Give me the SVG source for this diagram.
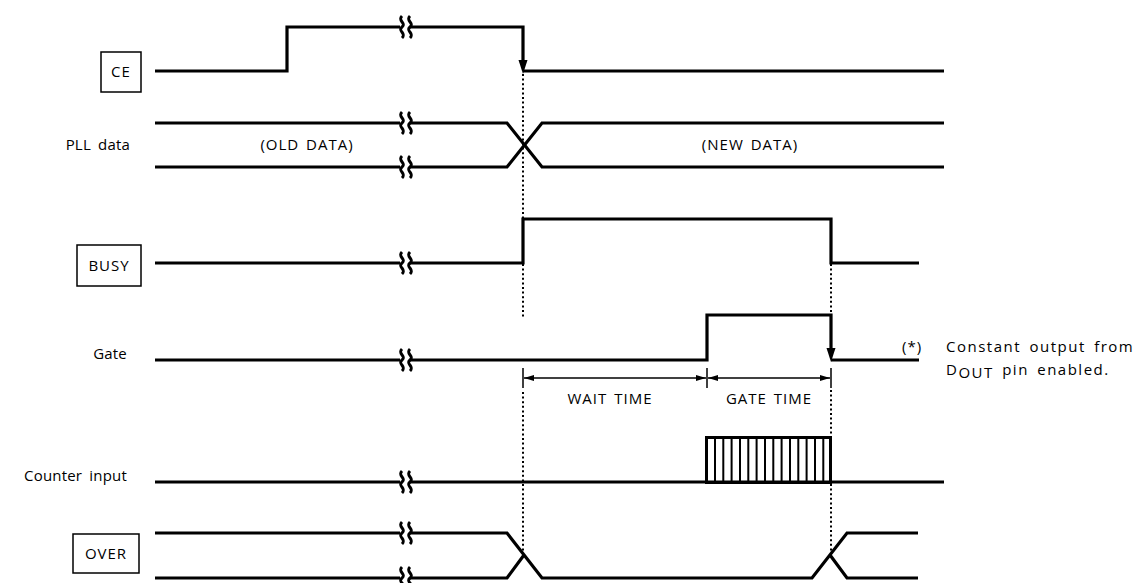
<svg xmlns="http://www.w3.org/2000/svg" width="1139" height="583" viewBox="0 0 1139 583">
<style>
.sig{fill:none;stroke:#000;stroke-width:3.2;stroke-linejoin:miter;stroke-linecap:butt}
.dot{fill:none;stroke:#000;stroke-width:2;stroke-dasharray:2 2.6}
.dim{fill:none;stroke:#000;stroke-width:1.5}
.box{fill:#fff;stroke:#000;stroke-width:1.5}
.t{font-family:"Open Sans","Noto Sans",sans-serif;font-size:15px;letter-spacing:1px;word-spacing:2px;fill:#000}
.lbl{letter-spacing:0.2px;word-spacing:3px}
.note{letter-spacing:1.5px;word-spacing:3px}
.brk{fill:none;stroke:#000;stroke-width:3}
.stripe{stroke:#000;stroke-width:2}
</style>
<defs>
<g id="br">
<rect x="-5" y="-10" width="10" height="20" fill="#fff"/>
<path class="brk" d="M-3,-11 C-8,-6 2,-4 -3,0 C-8,4 2,6 -3,11"/>
<path class="brk" d="M5,-11 C0,-6 10,-4 5,0 C0,4 10,6 5,11"/>
</g>
<marker id="ar" viewBox="0 0 10 6" refX="10" refY="3" markerWidth="10" markerHeight="6" markerUnits="userSpaceOnUse" orient="auto">
<path d="M0,0 L10,3 L0,6 Z" fill="#000"/>
</marker>
</defs>

<g id="connectors">
<path class="dot" d="M523,74 V219 M523,264 V318 M523,392 V556"/>
<path class="dot" d="M831,264 V315 M831,390 V437 M831,484 V556"/>
<path class="dim" d="M523,368 V388 M707,368 V388 M831,368 V388"/>
<path class="dim" d="M615,378 H524" marker-end="url(#ar)"/>
<path class="dim" d="M615,378 H706" marker-end="url(#ar)"/>
<path class="dim" d="M769,378 H708" marker-end="url(#ar)"/>
<path class="dim" d="M769,378 H830" marker-end="url(#ar)"/>
</g>

<g id="ce">
<rect class="box" x="101" y="52" width="40" height="40"/>
<text class="t" x="121" y="77" text-anchor="middle">CE</text>
<path class="sig" d="M155,71 H287 V27 H523 V62"/>
<polygon points="518.5,60 527.5,60 523,74" fill="#000"/>
<path class="sig" d="M523,71 H944"/>
<use href="#br" x="405" y="27"/>
</g>

<g id="pll">
<text class="t lbl" x="130" y="150" text-anchor="end">PLL data</text>
<path class="sig" d="M155,123 H507 L542,167 H944"/>
<path class="sig" d="M155,167 H507 L542,123 H944"/>
<use href="#br" x="405" y="123"/>
<use href="#br" x="405" y="167"/>
<text class="t" x="307" y="150" text-anchor="middle">(OLD DATA)</text>
<text class="t" x="750" y="150" text-anchor="middle">(NEW DATA)</text>
</g>

<g id="busy">
<rect class="box" x="77" y="245" width="64" height="41"/>
<text class="t" x="109" y="271" text-anchor="middle">BUSY</text>
<path class="sig" d="M155,263 H523 V219 H831 V263 H919"/>
<use href="#br" x="405" y="263"/>
</g>

<g id="gate">
<text class="t lbl" x="127" y="359" text-anchor="end">Gate</text>
<path class="sig" d="M155,360 H707 V315 H831 V350"/>
<polygon points="826.5,348 835.5,348 831,362" fill="#000"/>
<path class="sig" d="M831,360 H919"/>
<use href="#br" x="405" y="360"/>
<text class="t" x="610" y="404" text-anchor="middle">WAIT TIME</text>
<text class="t" x="769" y="404" text-anchor="middle">GATE TIME</text>
</g>

<g id="note">
<text class="t" x="902" y="352">(*)</text>
<text class="t note" x="946" y="352">Constant output from</text>
<text class="t note" x="946" y="375">D<tspan dy="3">OUT</tspan><tspan dy="-3"> pin enabled.</tspan></text>
</g>

<g id="counter">
<text class="t lbl" x="127" y="481" text-anchor="end">Counter input</text>
<path class="sig" d="M155,482 H944"/>
<use href="#br" x="405" y="482"/>
<rect x="706.5" y="437.5" width="124" height="45" fill="none" stroke="#000" stroke-width="3"/>
<path class="stripe" d="M715,438 V482 M723.3,438 V482 M731.6,438 V482 M740,438 V482 M748.3,438 V482 M756.6,438 V482 M765,438 V482 M773.3,438 V482 M781.6,438 V482 M790,438 V482 M798.3,438 V482 M806.6,438 V482 M815,438 V482 M823.3,438 V482"/>
</g>

<g id="over">
<rect class="box" x="73" y="534" width="66" height="39"/>
<text class="t" x="106" y="559" text-anchor="middle">OVER</text>
<path class="sig" d="M155,533 H507 L542,578 H812 L847,533 H918"/>
<path class="sig" d="M155,578 H507 L524,555"/>
<path class="sig" d="M830,555 L847,578 H918"/>
<use href="#br" x="405" y="533"/>
<use href="#br" x="405" y="578"/>
</g>
</svg>
